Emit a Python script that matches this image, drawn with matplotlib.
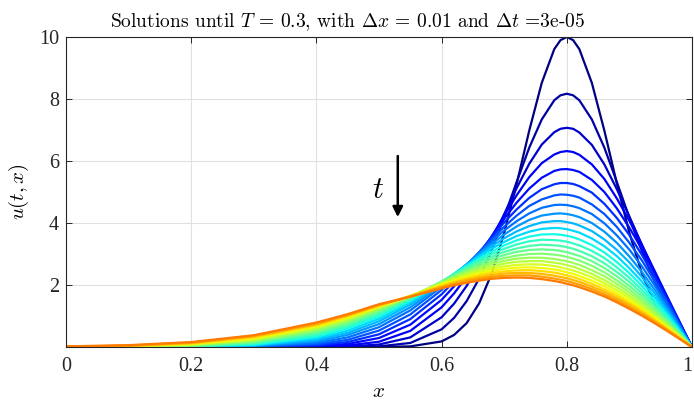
import numpy as np
import matplotlib
matplotlib.use('Agg')
import matplotlib.pyplot as plt

plt.rcParams['font.family'] = ['Liberation Serif', 'DejaVu Serif']
plt.rcParams['mathtext.fontset'] = 'cm'

# spatial sample points
x_grid = [0, 0.1, 0.2, 0.3, 0.4, 0.45, 0.5, 0.55, 0.6, 0.62, 0.64, 0.66, 0.68, 0.7,
          0.72, 0.74, 0.76, 0.78, 0.79, 0.8, 0.81, 0.82, 0.84, 0.86, 0.88, 0.9,
          0.92, 0.94, 0.96, 0.98, 1.0]

# solution snapshots u(t_k, x) (earliest first)
u00 = [0, 0, 0, 0, 0, 0, 0, 0.02, 0.18, 0.39, 0.77, 1.41, 2.37, 3.68, 5.27, 6.98, 8.52, 9.61, 9.90, 10.0, 9.90, 9.61, 8.52, 6.98, 5.27, 3.68, 2.37, 1.40, 0.74, 0.31, 0]
u01 = [0, 0, 0, 0, 0, 0, 0.02, 0.13, 0.57, 0.94, 1.48, 2.21, 3.13, 4.19, 5.33, 6.43, 7.34, 7.96, 8.12, 8.17, 8.12, 7.96, 7.34, 6.43, 5.32, 4.17, 3.09, 2.12, 1.30, 0.62, 0]
u02 = [0, 0, 0, 0, 0.002, 0.015, 0.08, 0.31, 0.96, 1.40, 1.97, 2.65, 3.44, 4.29, 5.13, 5.91, 6.53, 6.93, 7.04, 7.07, 7.04, 6.92, 6.52, 5.89, 5.09, 4.21, 3.30, 2.41, 1.57, 0.77, 0]
u03 = [0, 0, 0, 0, 0.01, 0.05, 0.17, 0.52, 1.28, 1.73, 2.27, 2.89, 3.56, 4.24, 4.90, 5.48, 5.93, 6.21, 6.29, 6.32, 6.29, 6.20, 5.89, 5.42, 4.79, 4.07, 3.29, 2.47, 1.64, 0.82, 0]
u04 = [0, 0, 0, 0.001, 0.03, 0.10, 0.29, 0.72, 1.52, 1.96, 2.46, 3.00, 3.57, 4.14, 4.66, 5.11, 5.46, 5.68, 5.73, 5.74, 5.71, 5.65, 5.39, 5.00, 4.47, 3.85, 3.15, 2.39, 1.61, 0.81, 0]
u05 = [0, 0, 0, 0.004, 0.055, 0.16, 0.41, 0.90, 1.70, 2.12, 2.57, 3.05, 3.54, 4.02, 4.44, 4.81, 5.09, 5.25, 5.29, 5.29, 5.26, 5.19, 4.98, 4.62, 4.16, 3.61, 2.97, 2.27, 1.54, 0.78, 0]
u06 = [0, 0, 0.001, 0.01, 0.09, 0.23, 0.53, 1.05, 1.84, 2.22, 2.64, 3.06, 3.48, 3.88, 4.24, 4.55, 4.76, 4.89, 4.92, 4.91, 4.88, 4.82, 4.60, 4.29, 3.87, 3.36, 2.79, 2.14, 1.46, 0.73, 0]
u07 = [0, 0, 0.002, 0.02, 0.13, 0.31, 0.64, 1.18, 1.94, 2.29, 2.66, 3.04, 3.41, 3.76, 4.06, 4.31, 4.49, 4.58, 4.59, 4.58, 4.54, 4.48, 4.29, 3.99, 3.60, 3.14, 2.60, 2.00, 1.36, 0.69, 0]
u08 = [0, 0, 0.003, 0.03, 0.18, 0.39, 0.74, 1.28, 2.01, 2.33, 2.67, 3.01, 3.33, 3.63, 3.89, 4.10, 4.24, 4.30, 4.31, 4.29, 4.25, 4.19, 4.00, 3.72, 3.36, 2.92, 2.42, 1.86, 1.27, 0.64, 0]
u09 = [0, 0.001, 0.01, 0.05, 0.23, 0.46, 0.83, 1.37, 2.05, 2.36, 2.66, 2.96, 3.25, 3.51, 3.73, 3.90, 4.02, 4.06, 4.06, 4.03, 3.99, 3.92, 3.74, 3.47, 3.13, 2.73, 2.26, 1.74, 1.18, 0.60, 0]
u10 = [0, 0.001, 0.01, 0.06, 0.28, 0.53, 0.91, 1.44, 2.09, 2.36, 2.64, 2.91, 3.17, 3.39, 3.58, 3.72, 3.81, 3.84, 3.83, 3.80, 3.75, 3.69, 3.50, 3.25, 2.93, 2.54, 2.11, 1.62, 1.10, 0.56, 0]
u11 = [0, 0.002, 0.02, 0.08, 0.33, 0.60, 0.98, 1.49, 2.10, 2.36, 2.61, 2.86, 3.08, 3.28, 3.44, 3.56, 3.63, 3.64, 3.62, 3.59, 3.54, 3.47, 3.29, 3.05, 2.74, 2.38, 1.97, 1.51, 1.03, 0.52, 0]
u12 = [0, 0.003, 0.02, 0.11, 0.38, 0.66, 1.05, 1.54, 2.11, 2.35, 2.58, 2.80, 3.00, 3.17, 3.31, 3.41, 3.46, 3.45, 3.43, 3.40, 3.34, 3.28, 3.10, 2.87, 2.57, 2.23, 1.84, 1.42, 0.96, 0.49, 0]
u13 = [0.001, 0.005, 0.03, 0.13, 0.43, 0.71, 1.10, 1.57, 2.11, 2.33, 2.54, 2.74, 2.91, 3.07, 3.18, 3.26, 3.30, 3.28, 3.26, 3.22, 3.17, 3.10, 2.93, 2.70, 2.42, 2.10, 1.73, 1.33, 0.90, 0.46, 0]
u14 = [0.001, 0.01, 0.04, 0.16, 0.48, 0.76, 1.15, 1.60, 2.11, 2.31, 2.50, 2.68, 2.83, 2.97, 3.07, 3.13, 3.15, 3.13, 3.10, 3.06, 3.00, 2.94, 2.77, 2.55, 2.28, 1.97, 1.63, 1.25, 0.85, 0.43, 0]
u15 = [0.002, 0.01, 0.05, 0.18, 0.52, 0.81, 1.19, 1.62, 2.09, 2.28, 2.45, 2.61, 2.75, 2.87, 2.95, 3.00, 3.01, 2.98, 2.95, 2.91, 2.85, 2.79, 2.62, 2.41, 2.15, 1.86, 1.53, 1.18, 0.80, 0.40, 0]
u16 = [0.003, 0.01, 0.06, 0.21, 0.56, 0.85, 1.23, 1.63, 2.08, 2.25, 2.41, 2.55, 2.68, 2.78, 2.85, 2.88, 2.88, 2.84, 2.80, 2.77, 2.71, 2.65, 2.48, 2.28, 2.04, 1.76, 1.45, 1.11, 0.75, 0.38, 0]
u17 = [0.004, 0.02, 0.07, 0.23, 0.60, 0.89, 1.26, 1.64, 2.06, 2.21, 2.36, 2.49, 2.60, 2.69, 2.75, 2.77, 2.77, 2.72, 2.69, 2.64, 2.59, 2.52, 2.36, 2.16, 1.93, 1.66, 1.37, 1.05, 0.71, 0.36, 0]
u18 = [0.005, 0.02, 0.09, 0.26, 0.64, 0.93, 1.29, 1.65, 2.03, 2.18, 2.31, 2.43, 2.53, 2.60, 2.65, 2.67, 2.66, 2.61, 2.57, 2.52, 2.47, 2.40, 2.25, 2.06, 1.83, 1.58, 1.29, 0.99, 0.67, 0.34, 0]
u19 = [0.007, 0.03, 0.10, 0.29, 0.67, 0.96, 1.31, 1.65, 2.01, 2.14, 2.26, 2.37, 2.46, 2.52, 2.56, 2.57, 2.55, 2.50, 2.46, 2.41, 2.36, 2.29, 2.14, 1.96, 1.74, 1.50, 1.23, 0.94, 0.64, 0.32, 0]
u20 = [0.009, 0.04, 0.11, 0.31, 0.70, 0.99, 1.33, 1.64, 1.98, 2.10, 2.21, 2.31, 2.39, 2.44, 2.47, 2.48, 2.45, 2.40, 2.36, 2.31, 2.26, 2.19, 2.04, 1.86, 1.66, 1.42, 1.17, 0.89, 0.60, 0.30, 0]
u21 = [0.01, 0.04, 0.13, 0.34, 0.73, 1.02, 1.35, 1.64, 1.95, 2.07, 2.17, 2.25, 2.32, 2.37, 2.39, 2.39, 2.36, 2.30, 2.26, 2.22, 2.16, 2.10, 1.95, 1.78, 1.58, 1.36, 1.11, 0.85, 0.57, 0.29, 0]
u22 = [0.01, 0.05, 0.14, 0.36, 0.76, 1.04, 1.36, 1.63, 1.92, 2.03, 2.12, 2.20, 2.26, 2.30, 2.31, 2.31, 2.27, 2.21, 2.17, 2.13, 2.07, 2.01, 1.87, 1.70, 1.51, 1.29, 1.06, 0.81, 0.55, 0.28, 0]
u23 = [0.02, 0.06, 0.16, 0.38, 0.79, 1.06, 1.38, 1.62, 1.89, 1.99, 2.07, 2.14, 2.20, 2.23, 2.24, 2.23, 2.19, 2.13, 2.09, 2.04, 1.99, 1.93, 1.79, 1.63, 1.44, 1.23, 1.01, 0.77, 0.52, 0.26, 0]

snapshots = [u00, u01, u02, u03, u04, u05, u06, u07, u08, u09, u10, u11,
             u12, u13, u14, u15, u16, u17, u18, u19, u20, u21, u22, u23]

x_ticks = [0, 0.2, 0.4, 0.6, 0.8, 1]
x_tick_labels = ['0', '0.2', '0.4', '0.6', '0.8', '1']
y_ticks = [2, 4, 6, 8, 10]

fig = plt.figure(figsize=(6.94, 4.05), dpi=100)
ax = fig.add_axes([66 / 694, 58 / 405, 626 / 694, 310 / 405])

cmap = plt.get_cmap('jet')
n = len(snapshots)
for i, u in enumerate(snapshots):
    ax.plot(x_grid, u, color=cmap(0.78 * i / (n - 1)), lw=1.6,
            solid_joinstyle='round', solid_capstyle='round')

ax.set_xlim(0, 1)
ax.set_ylim(0, 10)
ax.set_xticks(x_ticks)
ax.set_xticklabels(x_tick_labels)
ax.set_yticks(y_ticks)
ax.grid(True, color='#e0e0e0', lw=0.8)
ax.set_axisbelow(True)
ax.tick_params(direction='in', top=True, right=True, length=4, width=0.7,
               labelsize=14.5, colors='#262626')
ax.tick_params(axis='x', pad=7)
ax.tick_params(axis='y', pad=5)
for s in ax.spines.values():
    s.set_color('#262626')
    s.set_linewidth(0.8)

# keep the last x tick label inside the figure
ax.get_xticklabels()[-1].set_horizontalalignment('right')

ax.set_title(r'Solutions until $T$ = 0.3, with $\Delta x$ = 0.01 and $\Delta t$ =3e-05',
             fontsize=14, family=['cmr10', 'DejaVu Serif'], pad=7, x=0.45)
ax.set_xlabel('$x$', fontsize=15, labelpad=5)
ax.set_ylabel('$u(t,x)$', fontsize=15, labelpad=6)

ax.annotate('', xy=(0.530, 4.1), xytext=(0.530, 6.25),
            arrowprops=dict(arrowstyle='-|>', color='k', lw=1.8, mutation_scale=15))
ax.text(0.498, 5.05, '$t$', fontsize=22, ha='center', va='center')

fig.savefig('out.png', dpi=100)
